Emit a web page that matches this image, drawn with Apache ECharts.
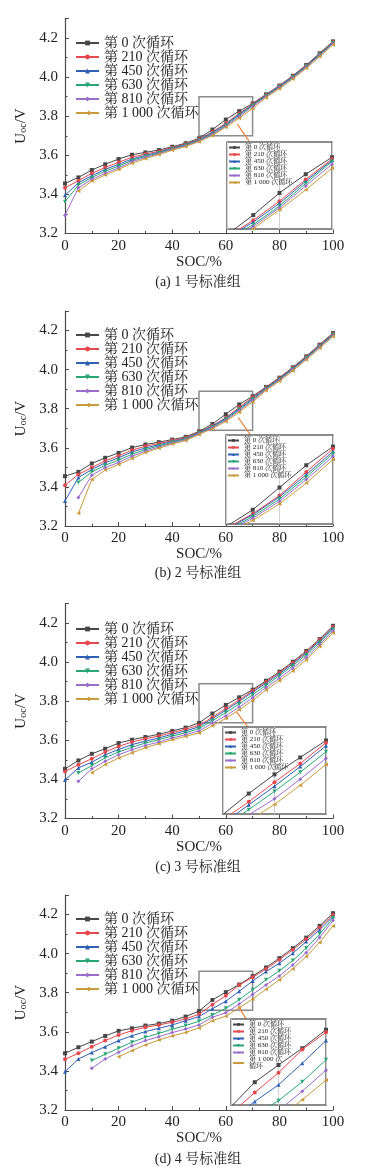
<!DOCTYPE html>
<html>
<head>
<meta charset="utf-8">
<script src="https://cdn.jsdelivr.net/npm/echarts@6/dist/echarts.min.js"></script>
<style>html,body{margin:0;padding:0;background:#fff;}#c{width:372px;height:1174px;}</style>
</head>
<body>
<div id="c"></div>
<script>
// ---------- data ----------
const SOC = [0,5,10,15,20,25,30,35,40,45,50,55,60,65,70,75,80,85,90,95,100];
const CYCLES = ['第 0 次循环','第 210 次循环','第 450 次循环','第 630 次循环','第 810 次循环','第 1 000 次循环'];
const TITLES = ['(a) 1 号标准组','(b) 2 号标准组','(c) 3 号标准组','(d) 4 号标准组'];
const X_RANGE = [0, 100, 20];
const Y_RANGE = [3.2, 4.3, 0.2];
const ZOOM_X = [50, 70];
const ZOOM_Y = [[3.70,3.90],[3.69,3.89],[3.69,3.89],[3.71,3.91]];
const ARROWS = [
  [[64.3,3.760],[68.8,3.670]],
  [[64.6,3.755],[69.3,3.664]],
  [[64.0,3.745],[68.7,3.660]],
  [[64.6,3.733],[67.8,3.661]]
];

// group 1
const A0    = [3.456,3.487,3.525,3.554,3.581,3.603,3.615,3.627,3.644,3.662,3.687,3.732,3.783,3.826,3.865,3.912,3.957,4.007,4.062,4.122,4.183];
const A210  = [3.434,3.470,3.508,3.538,3.564,3.590,3.607,3.620,3.640,3.658,3.682,3.720,3.764,3.814,3.861,3.909,3.955,4.004,4.059,4.119,4.180];
const A450  = [3.396,3.459,3.496,3.528,3.554,3.581,3.600,3.616,3.636,3.655,3.679,3.716,3.759,3.810,3.858,3.907,3.953,4.002,4.057,4.117,4.178];
const A630  = [3.362,3.448,3.487,3.519,3.545,3.574,3.595,3.612,3.633,3.652,3.676,3.710,3.753,3.805,3.855,3.904,3.950,3.999,4.054,4.114,4.175];
const A810  = [3.294,3.434,3.477,3.508,3.536,3.567,3.590,3.608,3.630,3.648,3.673,3.706,3.749,3.799,3.849,3.900,3.946,3.995,4.050,4.110,4.171];
const A1000 = [null,3.418,3.468,3.499,3.528,3.559,3.583,3.604,3.626,3.645,3.670,3.701,3.744,3.790,3.840,3.895,3.941,3.990,4.045,4.105,4.166];
// group 2
const B0    = [3.455,3.477,3.520,3.549,3.574,3.601,3.617,3.629,3.642,3.656,3.684,3.722,3.772,3.822,3.864,3.911,3.959,4.012,4.068,4.128,4.187];
const B210  = [3.409,3.464,3.499,3.533,3.559,3.588,3.608,3.622,3.637,3.652,3.680,3.713,3.754,3.807,3.859,3.908,3.956,4.009,4.065,4.125,4.184];
const B450  = [3.328,3.448,3.489,3.523,3.549,3.579,3.599,3.616,3.632,3.648,3.677,3.711,3.751,3.801,3.853,3.905,3.953,4.006,4.062,4.122,4.181];
const B630  = [null,3.423,3.477,3.511,3.537,3.567,3.591,3.610,3.628,3.645,3.674,3.707,3.746,3.796,3.848,3.902,3.950,4.003,4.059,4.119,4.178];
const B810  = [null,3.346,3.460,3.499,3.525,3.557,3.583,3.604,3.623,3.641,3.671,3.703,3.741,3.790,3.842,3.898,3.946,3.999,4.055,4.115,4.174];
const B1000 = [null,3.265,3.438,3.486,3.515,3.545,3.576,3.598,3.619,3.637,3.668,3.698,3.735,3.782,3.835,3.893,3.941,3.994,4.050,4.110,4.169];
// group 3
const C0    = [3.454,3.497,3.531,3.557,3.586,3.603,3.617,3.631,3.648,3.665,3.689,3.737,3.781,3.820,3.859,3.905,3.951,4.002,4.057,4.118,4.186];
const C210  = [3.440,3.475,3.506,3.540,3.569,3.591,3.608,3.622,3.639,3.657,3.677,3.718,3.763,3.806,3.854,3.899,3.946,3.997,4.052,4.113,4.181];
const C450  = [3.397,3.459,3.488,3.526,3.553,3.578,3.596,3.612,3.631,3.648,3.669,3.711,3.754,3.799,3.847,3.892,3.940,3.991,4.046,4.108,4.176];
const C630  = [null,3.433,3.471,3.511,3.540,3.565,3.586,3.603,3.622,3.639,3.660,3.700,3.742,3.786,3.833,3.882,3.931,3.982,4.037,4.100,4.168];
const C810  = [null,3.390,3.454,3.493,3.526,3.552,3.574,3.591,3.612,3.629,3.648,3.688,3.725,3.770,3.818,3.870,3.918,3.969,4.024,4.090,4.159];
const C1000 = [null,null,3.434,3.476,3.509,3.536,3.562,3.583,3.603,3.620,3.638,3.674,3.712,3.756,3.804,3.857,3.905,3.955,4.011,4.080,4.149];
// group 4
const D0    = [3.490,3.521,3.550,3.579,3.605,3.618,3.632,3.642,3.657,3.678,3.706,3.763,3.803,3.842,3.885,3.929,3.977,4.028,4.082,4.142,4.207];
const D210  = [3.460,3.490,3.524,3.555,3.584,3.606,3.623,3.635,3.649,3.666,3.690,3.739,3.785,3.839,3.879,3.921,3.969,4.020,4.074,4.133,4.198];
const D450  = [3.396,3.461,3.494,3.524,3.555,3.580,3.601,3.618,3.635,3.657,3.678,3.718,3.757,3.807,3.860,3.908,3.951,4.002,4.062,4.122,4.190];
const D630  = [null,null,3.453,3.485,3.516,3.547,3.572,3.592,3.613,3.632,3.654,3.686,3.720,3.764,3.815,3.866,3.912,3.965,4.028,4.100,4.182];
const D810  = [null,null,3.413,3.461,3.495,3.529,3.555,3.575,3.596,3.614,3.635,3.675,3.697,3.742,3.791,3.840,3.886,3.942,4.005,4.082,4.169];
const D1000 = [null,null,null,null,3.473,3.504,3.533,3.558,3.579,3.597,3.620,3.657,3.680,3.722,3.768,3.818,3.866,3.922,3.985,4.057,4.142];

const GROUPS = [
  [A0,A210,A450,A630,A810,A1000],
  [B0,B210,B450,B630,B810,B1000],
  [C0,C210,C450,C630,C810,C1000],
  [D0,D210,D450,D630,D810,D1000]
];

// ---------- layout & style ----------
const LAYOUT = [
  {top:18.5, inset:{left:227, top:142, width:105, height:87}, title:274, legend:36},
  {top:311,  inset:{left:226, top:435, width:107, height:89}, title:565, legend:328},
  {top:603.5,inset:{left:223, top:727, width:103, height:87}, title:859, legend:622},
  {top:895,  inset:{left:231, top:1019,width:95,  height:86}, title:1151, legend:912}
];
const COLORS = ['#474747','#e5484d','#2f60b4','#2aa574','#9a6dcb','#c99b3c'];
const SYMBOLS = ['rect','circle','triangle','triangle','diamond','triangle'];
const ROTATE = [0,0,0,180,0,90];
const FONT = "'Liberation Serif','Noto Serif CJK SC','Noto Sans CJK SC',serif";
const AXIS_COLOR = '#4a4a4a';

const grid = [], xAxis = [], yAxis = [], series = [], legend = [], title = [];

GROUPS.forEach((group, i) => {
  const L = LAYOUT[i];
  const gMain = 2*i, gIn = 2*i+1;
  grid.push({left:65, width:268, top:L.top, height:215, containLabel:false});
  grid.push({left:L.inset.left, top:L.inset.top, width:L.inset.width, height:L.inset.height,
             show:true, backgroundColor:'#fff', borderColor:'#666', borderWidth:1.5, z:10});

  xAxis.push({type:'value', gridIndex:gMain, min:X_RANGE[0], max:X_RANGE[1], interval:X_RANGE[2],
    name:'SOC/%', nameLocation:'middle', nameGap:19,
    nameTextStyle:{fontFamily:FONT, fontSize:15, color:'#222'},
    axisLine:{lineStyle:{color:AXIS_COLOR, width:1.2}},
    axisTick:{inside:true, length:4, lineStyle:{color:AXIS_COLOR}},
    minorTick:{show:true, splitNumber:2, length:2.5, lineStyle:{color:AXIS_COLOR}},
    axisLabel:{fontFamily:FONT, fontSize:15, color:'#222', margin:5},
    splitLine:{show:false}});
  xAxis.push({type:'value', gridIndex:gIn, min:ZOOM_X[0], max:ZOOM_X[1], interval:10, z:12,
    axisLine:{show:false}, axisTick:{show:false}, axisLabel:{show:false},
    splitLine:{show:true, lineStyle:{color:'#d0d0d0', width:1}}});

  yAxis.push({type:'value', gridIndex:gMain, min:Y_RANGE[0], max:Y_RANGE[1], interval:Y_RANGE[2],
    name:'{u|U}{s|oc}{u|/V}', nameLocation:'middle', nameGap:24, nameRotate:90,
    nameTextStyle:{fontFamily:FONT, fontSize:15, color:'#222',
      rich:{u:{fontFamily:FONT, fontSize:15, lineHeight:15, verticalAlign:'top', color:'#222'},
            s:{fontFamily:FONT, fontSize:10, lineHeight:10, verticalAlign:'bottom', padding:[6,0,0,0], color:'#222'}}},
    axisLine:{show:true, lineStyle:{color:AXIS_COLOR, width:1.2}},
    axisTick:{show:true, inside:true, length:4, lineStyle:{color:AXIS_COLOR}},
    minorTick:{show:true, splitNumber:2, length:2.5, lineStyle:{color:AXIS_COLOR}},
    axisLabel:{fontFamily:FONT, fontSize:15, color:'#222', margin:7, showMaxLabel:false,
      formatter:v => v.toFixed(1)},
    splitLine:{show:false}});
  yAxis.push({type:'value', gridIndex:gIn, min:ZOOM_Y[i][0], max:ZOOM_Y[i][1], z:12,
    axisLine:{show:false}, axisTick:{show:false}, axisLabel:{show:false}, splitLine:{show:false}});

  group.forEach((vals, j) => {
    const pts = SOC.map((x, k) => [x, vals[k] == null ? '-' : vals[k]]);
    const base = {type:'line', name:CYCLES[j], data:pts, color:COLORS[j],
      symbol:SYMBOLS[j], symbolRotate:ROTATE[j], showAllSymbol:true,
      lineStyle:{width:1, color:COLORS[j]}, itemStyle:{color:COLORS[j]},
      emphasis:{disabled:true}, animation:false, connectNulls:false};
    const main = Object.assign({}, base, {xAxisIndex:gMain, yAxisIndex:gMain, symbolSize:4, z:2});
    if (j === 0) {
      main.markArea = {silent:true, label:{show:false},
        itemStyle:{color:'rgba(0,0,0,0)', borderColor:'#8c8c8c', borderWidth:1.5},
        data:[[{coord:[ZOOM_X[0], ZOOM_Y[i][0]]},{coord:[ZOOM_X[1], ZOOM_Y[i][1]]}]]};
      main.markLine = {silent:true, symbol:['none','arrow'], symbolSize:[0,6], label:{show:false},
        lineStyle:{color:'#e8833a', width:1.2, type:'solid'},
        data:[[{coord:ARROWS[i][0]},{coord:ARROWS[i][1]}]]};
    }
    series.push(main);
    series.push(Object.assign({}, base, {xAxisIndex:gIn, yAxisIndex:gIn, symbolSize:4, z:12, clip:true}));
  });

  legend.push({orient:'vertical', left:75, top:L.legend, padding:0, itemGap:0,
    itemWidth:23, itemHeight:6, data:CYCLES, selectedMode:false,
    textStyle:{fontFamily:FONT, fontSize:14, lineHeight:14, color:'#222'}});
  const inLeg = {orient:'vertical', left:L.inset.left+1, top:L.inset.top+2, padding:0, itemGap:0,
    itemWidth:11, itemHeight:3.5, data:CYCLES, selectedMode:false, z:20,
    textStyle:{fontFamily:FONT, fontSize:7, lineHeight:7, color:'#222'}};
  if (i === 3) {
    inLeg.formatter = n => n === CYCLES[5] ? '第 1 000 次\n循环' : n;
  }
  legend.push(inLeg);

  title.push({text:TITLES[i], left:198, top:L.title, textAlign:'center', padding:0,
    textStyle:{fontFamily:FONT, fontSize:14, lineHeight:16, fontWeight:'normal', color:'#222'}});
});

const chart = echarts.init(document.getElementById('c'), null, {renderer:'canvas'});
chart.setOption({backgroundColor:'#fff', animation:false, title, grid, xAxis, yAxis, legend, series});
</script>
</body>
</html>
